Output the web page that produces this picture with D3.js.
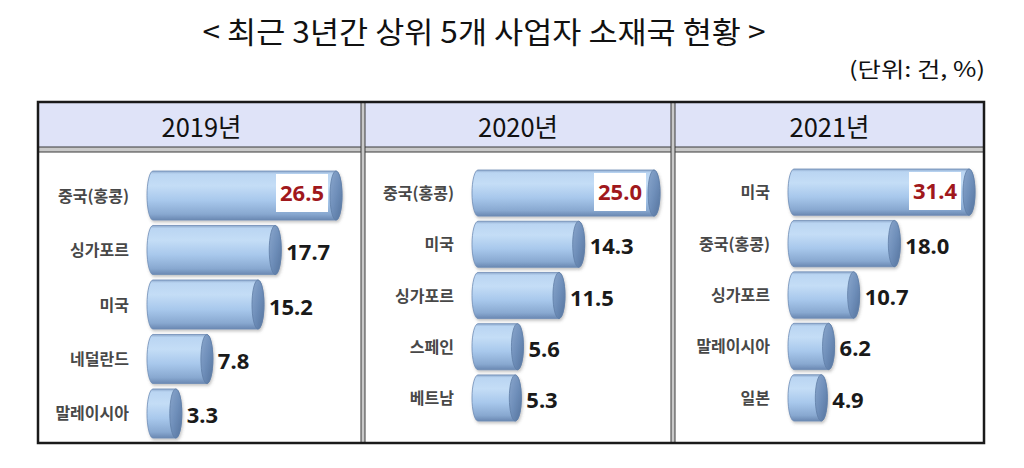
<!DOCTYPE html>
<html>
<head>
<meta charset="utf-8">
<script src="https://cdn.jsdelivr.net/npm/d3@7"></script>
<style>
  html, body { margin: 0; padding: 0; background: #fff; }
  svg { display: block; }
</style>
</head>
<body>
<div id="chart"></div>
<script>
// data
const title = "< 최근 3년간 상위 5개 사업자 소재국 현황 >";
const unitLabel = "(단위: 건, %)";
const years = ["2019년", "2020년", "2021년"];
const countries2019 = ["중국(홍콩)", "싱가포르", "미국", "네덜란드", "말레이시아"];
const values2019 = [26.5, 17.7, 15.2, 7.8, 3.3];
const countries2020 = ["중국(홍콩)", "미국", "싱가포르", "스페인", "베트남"];
const values2020 = [25.0, 14.3, 11.5, 5.6, 5.3];
const countries2021 = ["미국", "중국(홍콩)", "싱가포르", "말레이시아", "일본"];
const values2021 = [31.4, 18.0, 10.7, 6.2, 4.9];

const width = 1024, height = 468;
const tableLeft = 38, tableRight = 984, tableTop = 102, tableBottom = 443;
const headerBottom = 147;
const colEdges = [tableLeft, 361, 671, tableRight];

const svg = d3.select("#chart").append("svg")
    .attr("width", width)
    .attr("height", height)
    .attr("viewBox", [0, 0, width, height]);

const defs = svg.append("defs");

// cylinder body gradient (top light, bottom darker)
const bodyGrad = defs.append("linearGradient")
    .attr("id", "bodyGrad").attr("x1", 0).attr("y1", 0).attr("x2", 0).attr("y2", 1);
[[0, "#8ea9cc"], [0.06, "#bad5f2"], [0.3, "#c4ddf6"], [0.6, "#a8c8ec"], [0.88, "#88a8d0"], [1, "#6a88b2"]]
    .forEach(([o, c]) => bodyGrad.append("stop").attr("offset", o).attr("stop-color", c));

const capGrad = defs.append("linearGradient")
    .attr("id", "capGrad").attr("x1", 0).attr("y1", 0).attr("x2", 1).attr("y2", 1);
[[0, "#8aa6cc"], [0.5, "#6f8fba"], [1, "#56749e"]]
    .forEach(([o, c]) => capGrad.append("stop").attr("offset", o).attr("stop-color", c));

defs.append("filter").attr("id", "shadow")
    .attr("x", "-10%").attr("y", "-20%").attr("width", "130%").attr("height", "150%")
  .append("feDropShadow")
    .attr("dx", 1).attr("dy", 2).attr("stdDeviation", 1.6)
    .attr("flood-color", "#555").attr("flood-opacity", 0.35);

// title and unit
svg.append("text")
    .attr("x", 484).attr("y", 43)
    .attr("text-anchor", "middle")
    .attr("textLength", 563).attr("lengthAdjust", "spacingAndGlyphs")
    .style("font-family", "'Noto Sans CJK KR', sans-serif")
    .style("font-size", "30px")
    .style("fill", "#111")
    .text(title);

svg.append("text")
    .attr("x", 985).attr("y", 77)
    .attr("text-anchor", "end")
    .attr("textLength", 136).attr("lengthAdjust", "spacingAndGlyphs")
    .style("font-family", "'Noto Sans CJK KR', sans-serif")
    .style("font-size", "21px")
    .style("fill", "#111")
    .text(unitLabel);

// table: header fill
svg.append("rect")
    .attr("x", tableLeft).attr("y", tableTop)
    .attr("width", tableRight - tableLeft).attr("height", headerBottom - tableTop)
    .attr("fill", "#dfe3f8");

// double lines (header bottom + column dividers)
function doubleH(y, x0, x1) {
  svg.append("rect").attr("x", x0).attr("y", y).attr("width", x1 - x0).attr("height", 5)
      .attr("fill", "#c9c9c9").attr("stroke", "#3a3a3a").attr("stroke-width", 1);
}
function doubleV(x, y0, y1) {
  svg.append("rect").attr("x", x).attr("y", y0).attr("width", 4).attr("height", y1 - y0)
      .attr("fill", "#c9c9c9").attr("stroke", "#3a3a3a").attr("stroke-width", 1);
}
doubleH(headerBottom, tableLeft, tableRight);
doubleV(colEdges[1], tableTop, tableBottom);
doubleV(colEdges[2], tableTop, tableBottom);

svg.append("rect")
    .attr("x", tableLeft).attr("y", tableTop)
    .attr("width", tableRight - tableLeft).attr("height", tableBottom - tableTop)
    .attr("fill", "none").attr("stroke", "#1a1a1a").attr("stroke-width", 2.5);

// header labels
years.forEach((yr, i) => {
  svg.append("text")
      .attr("x", (colEdges[i] + colEdges[i + 1]) / 2 + 2)
      .attr("y", 137)
      .attr("text-anchor", "middle")
      .attr("textLength", 80).attr("lengthAdjust", "spacingAndGlyphs")
      .style("font-family", "'Noto Sans CJK KR', sans-serif")
      .style("font-size", "26px")
      .style("fill", "#111")
      .text(yr);
});

// panels
const rx = 6;
const panels = [
  {cats: countries2019, vals: values2019, start: 147, bodyMax: 183, yRange: [171, 438]},
  {cats: countries2020, vals: values2020, start: 472, bodyMax: 176, yRange: [170, 421]},
  {cats: countries2021, vals: values2021, start: 788, bodyMax: 175, yRange: [169, 421]}
];

panels.forEach(p => {
  const data = p.cats.map((c, i) => ({name: c, value: p.vals[i]}));

  const x = d3.scaleLinear()
      .domain([0, d3.max(p.vals)])
      .range([p.start + 2 * rx, p.start + 2 * rx + p.bodyMax]);

  const y = d3.scaleBand()
      .domain(p.cats)
      .range(p.yRange)
      .paddingInner(0.1);

  const g = svg.append("g");

  const bar = g.selectAll("g.bar")
    .data(data)
    .join("g")
      .attr("class", "bar")
      .attr("filter", "url(#shadow)");

  // body with rounded back end
  bar.append("path")
      .attr("d", d => {
        const top = y(d.name), bot = top + y.bandwidth(), ry = y.bandwidth() / 2;
        const xl = p.start + rx, xc = x(d.value) - rx;
        return `M${xl},${top} H${xc} A${rx},${ry} 0 0 1 ${xc},${bot} H${xl} A${rx},${ry} 0 0 1 ${xl},${top} Z`;
      })
      .attr("fill", "url(#bodyGrad)")
      .attr("stroke", "#6f8db6")
      .attr("stroke-width", 0.8);

  // end cap
  bar.append("ellipse")
      .attr("cx", d => x(d.value) - rx)
      .attr("cy", d => y(d.name) + y.bandwidth() / 2)
      .attr("rx", rx)
      .attr("ry", y.bandwidth() / 2)
      .attr("fill", "url(#capGrad)")
      .attr("stroke", "#5f7da6")
      .attr("stroke-width", 0.8);

  // category labels
  g.selectAll("text.cat")
    .data(data)
    .join("text")
      .attr("class", "cat")
      .attr("x", p.start - 18)
      .attr("y", d => y(d.name) + y.bandwidth() / 2 + 6)
      .attr("text-anchor", "end")
      .style("font-family", "'Noto Sans CJK KR', sans-serif")
      .style("font-size", "16px")
      .style("font-weight", 700)
      .style("fill", "#484848")
      .text(d => d.name);

  // top value: white box inside the bar, red text
  const topD = data[0];
  const boxR = x(topD.value) - rx - 8;
  g.append("rect")
      .attr("x", boxR - 52)
      .attr("y", y(topD.name) + 3)
      .attr("width", 52)
      .attr("height", 38)
      .attr("fill", "#fff");
  g.append("text")
      .attr("x", boxR - 26)
      .attr("y", y(topD.name) + 30)
      .attr("text-anchor", "middle")
      .style("font-family", "'Noto Sans', sans-serif")
      .style("font-size", "22px")
      .style("font-weight", 700)
      .style("fill", "#a0181c")
      .text(d3.format(".1f")(topD.value));

  // other values
  g.selectAll("text.val")
    .data(data.slice(1))
    .join("text")
      .attr("class", "val")
      .attr("x", d => x(d.value) + 5)
      .attr("y", d => y(d.name) + y.bandwidth() / 2 + 10)
      .style("font-family", "'Noto Sans', sans-serif")
      .style("font-size", "22px")
      .style("font-weight", 700)
      .style("fill", "#1a1a1a")
      .text(d => d3.format(".1f")(d.value));
});
</script>
</body>
</html>
